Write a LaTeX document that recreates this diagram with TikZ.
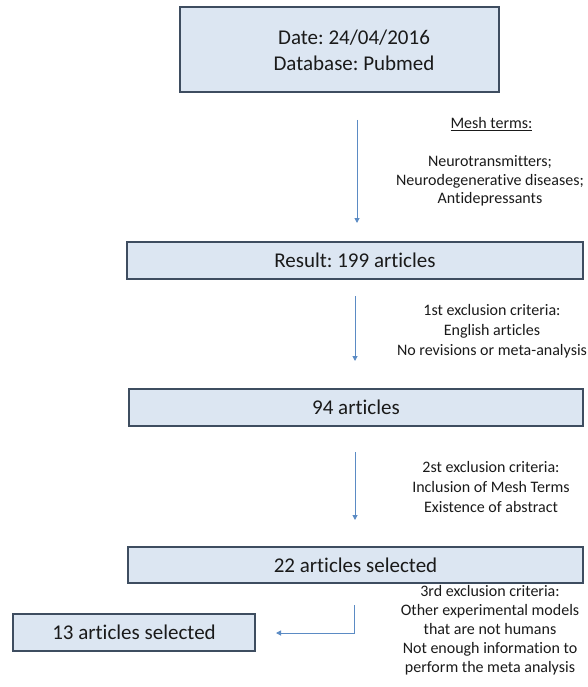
\documentclass[tikz,border=0pt]{standalone}
\usepackage{fontspec}
\setmainfont[Ligatures={NoCommon}]{Carlito}
\frenchspacing
\usetikzlibrary{arrows.meta}
\definecolor{boxfill}{HTML}{DCE6F2}
\definecolor{boxline}{HTML}{3E4D60}
\definecolor{arrowc}{HTML}{5B8BC4}
\definecolor{txt}{HTML}{1A1A1A}
\tikzset{
  flowbox/.style={draw=boxline, line width=1.1pt, fill=boxfill, rectangle, inner sep=0pt, text=txt, font=\fontsize{21}{26}\selectfont, align=center},
  crit/.style={text=txt, inner sep=0pt, align=center, font=\fontsize{16}{20}\selectfont},
  meshtxt/.style={text=txt, inner sep=0pt, align=center, font=\fontsize{16}{18.5}\selectfont},
  flowarrow/.style={draw=arrowc, line width=1pt, -{Triangle[length=5pt,width=5pt]}}
}
\begin{document}
\begin{tikzpicture}[x=1pt,y=-1pt]
\useasboundingbox (0,0) rectangle (587,687);
% boxes
\node[flowbox, minimum width=319pt, minimum height=85pt] (top) at (339.5,49.5) {};
\node[text=txt, inner sep=0pt, align=center, font=\fontsize{21}{26}\selectfont] (toptext) at (354,50) {Date: 24/04/2016\\Database: Pubmed};
\node[flowbox, minimum width=456pt, minimum height=37pt] (result) at (355,260.5) {Result: 199 articles};
\node[flowbox, minimum width=454pt, minimum height=37pt] (n94) at (356,407.5) {94 articles};
\node[flowbox, minimum width=455pt, minimum height=36pt] (n22) at (355.5,565) {22 articles selected};
\node[flowbox, minimum width=242pt, minimum height=37pt] (n13) at (134,632.5) {13 articles selected};
% criteria texts
\node[meshtxt] (meshhead) at (491.5,124) {\underline{Mesh terms:}};
\node[meshtxt] (mesh) at (490,181) {Neurotransmitters;\\Neurodegenerative diseases;\\Antidepressants};
\node[crit] (c1) at (492,331) {1st exclusion criteria:\\English articles\\No revisions or meta-analysis};
\node[crit] (c2) at (491,487) {2st exclusion criteria:\\Inclusion of Mesh Terms\\Existence of abstract};
\node[crit, font=\fontsize{16}{19}\selectfont] (c3) at (490,630) {3rd exclusion criteria:\\Other experimental models\\that are not humans\\Not enough information to\\perform the meta analysis};
% arrows
\coordinate (a1s) at (357,120);
\coordinate (a1e) at (357,223);
\coordinate (a2s) at (355,296);
\coordinate (a2e) at (355,361);
\coordinate (a3s) at (355,452);
\coordinate (a3e) at (355,520);
\coordinate (a4s) at (354,605);
\coordinate (a4m) at (354,633);
\coordinate (a4e) at (276,633);
\draw[flowarrow] (a1s) -- (a1e);
\draw[flowarrow] (a2s) -- (a2e);
\draw[flowarrow] (a3s) -- (a3e);
\draw[flowarrow] (a4s) -- (a4m) -- (a4e);
\end{tikzpicture}
\end{document}
